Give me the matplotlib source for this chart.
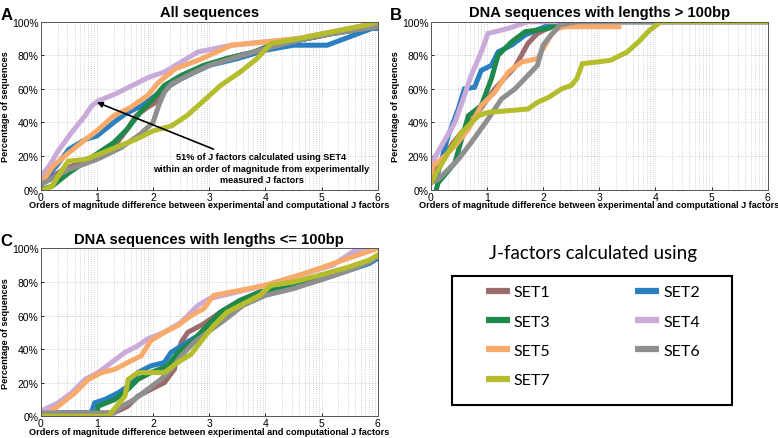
import numpy as np
import matplotlib
matplotlib.use('Agg')
import matplotlib.pyplot as plt
from matplotlib.lines import Line2D
from matplotlib.patches import Rectangle

plt.rcParams['font.family'] = ['Liberation Sans', 'DejaVu Sans']

# series names and colours
sets = ['SET1', 'SET2', 'SET3', 'SET4', 'SET5', 'SET6', 'SET7']
colors = ['#9c6b6b', '#2a7fc0', '#1d8a4c', '#c9aad9', '#f8aa6a', '#8f8f8f', '#b5bd2c']

# panel A: all sequences  (x = orders of magnitude, y = % of sequences)
A_X = {
    'SET1': [0, 0.4, 1.0, 1.36, 1.54, 1.7, 1.9, 2.05, 2.2, 2.5, 2.9, 3.3, 3.8, 4.1, 4.6, 5.2, 5.8, 6.0],
    'SET2': [0, 0.3, 0.5, 0.8, 1.0, 1.3, 1.5, 1.8, 2.0, 2.2, 2.5, 3.0, 3.5, 4.0, 4.5, 5.1, 5.9, 6.0],
    'SET3': [0, 0.2, 0.5, 1.03, 1.3, 1.54, 1.77, 2.0, 2.2, 2.5, 2.9, 3.3, 3.8, 4.1, 4.6, 5.2, 5.8, 6.0],
    'SET4': [0, 0.05, 0.15, 0.31, 0.55, 0.79, 0.91, 1.03, 1.33, 1.63, 1.93, 2.2, 2.5, 2.8, 3.4, 4.0, 4.6, 5.2, 5.8, 6.0],
    'SET5': [0, 0.1, 0.22, 0.5, 0.8, 1.0, 1.3, 1.6, 1.9, 2.1, 2.4, 2.8, 3.0, 3.4, 4.0, 4.6, 5.2, 5.8, 6.0],
    'SET6': [0, 0.5, 1.0, 1.43, 1.77, 2.0, 2.1, 2.2, 2.33, 2.62, 3.0, 3.5, 4.0, 4.6, 5.2, 5.8, 6.0],
    'SET7': [0.05, 0.2, 0.31, 0.49, 0.79, 1.03, 1.4, 1.7, 2.0, 2.33, 2.6, 2.97, 3.2, 3.55, 3.85, 4.1, 4.6, 5.2, 5.8, 6.0],
}
A_Y = {
    'SET1': [3, 12, 20, 28, 36, 44, 49, 52, 60, 67, 73, 78, 82, 86, 89, 93, 96, 97],
    'SET2': [3, 15, 24, 30, 32, 40, 45, 50, 55, 60, 66, 74, 78, 83, 86, 86, 96, 96],
    'SET3': [0, 2, 10, 22, 28, 36, 46, 54, 62, 68, 74, 78, 82, 86, 89, 93, 96, 97],
    'SET4': [5, 10, 14, 23, 34, 44, 50, 53, 57, 62, 67, 70, 76, 82, 86, 88, 90, 94, 98, 100],
    'SET5': [4, 8, 14, 22, 30, 35, 44, 49, 56, 64, 72, 77, 80, 86, 88, 90, 94, 98, 100],
    'SET6': [3, 12, 18, 25, 33, 40, 50, 58, 63, 68, 74, 79, 84, 89, 93, 96, 97],
    'SET7': [0, 2, 8, 17, 18, 21, 26, 30, 35, 38, 44, 55, 62, 70, 78, 87, 90, 94, 98, 100],
}

# panel B: lengths > 100bp
B_X = {
    'SET1': [0, 0.1, 0.4, 0.8, 1.14, 1.5, 1.73, 1.9, 2.2, 2.5, 6.0],
    'SET2': [0, 0.13, 0.31, 0.49, 0.6, 0.78, 0.9, 1.08, 1.2, 1.44, 1.68, 2.1, 2.2, 6.0],
    'SET3': [0.1, 0.13, 0.43, 0.67, 0.9, 1.08, 1.2, 1.44, 1.68, 2.1, 2.33, 6.0],
    'SET4': [0, 0.02, 0.19, 0.43, 0.6, 0.72, 0.9, 1.02, 1.38, 1.73, 6.0],
    'SET5': [0, 0.04, 0.25, 0.43, 0.67, 0.9, 1.14, 1.38, 1.62, 1.9, 2.14, 2.26, 2.4, 3.35],
    'SET6': [0, 0.13, 0.49, 0.72, 1.02, 1.26, 1.5, 1.73, 1.9, 2.0, 2.14, 2.3, 2.6, 4.1],
    'SET7': [0, 0.31, 0.55, 0.85, 1.02, 1.73, 1.9, 2.1, 2.33, 2.5, 2.6, 2.7, 3.2, 3.5, 3.7, 3.9, 4.1, 6.0],
}
B_Y = {
    'SET1': [5, 12, 28, 44, 60, 73, 87, 93, 98, 100, 100],
    'SET2': [5, 10, 32, 48, 60, 61, 71, 74, 82, 86, 92, 98, 100, 100],
    'SET3': [0, 4, 16, 44, 50, 66, 80, 88, 94, 96, 100, 100],
    'SET4': [10, 16, 26, 40, 56, 68, 82, 93, 96, 100, 100],
    'SET5': [8, 14, 20, 26, 36, 50, 58, 70, 76, 78, 92, 96, 97, 97],
    'SET6': [4, 6, 18, 28, 42, 54, 60, 68, 74, 86, 92, 98, 100, 100],
    'SET7': [4, 22, 34, 44, 46, 48, 52, 55, 60, 62, 66, 75, 77, 82, 88, 95, 100, 100],
}

# panel C: lengths <= 100bp
C_X = {
    'SET1': [0, 0.3, 1.3, 1.55, 1.73, 1.96, 2.2, 2.38, 2.5, 2.62, 2.9, 3.2, 3.55, 3.9, 4.5, 4.96, 5.5, 5.85, 6.0],
    'SET2': [0, 0.3, 0.9, 0.96, 1.14, 1.38, 1.56, 1.73, 1.96, 2.2, 2.32, 2.6, 2.9, 3.2, 3.55, 3.9, 4.5, 4.96, 5.5, 5.85, 6.0],
    'SET3': [0, 1.0, 1.02, 1.32, 1.55, 1.73, 1.96, 2.26, 2.44, 2.68, 2.91, 3.2, 3.55, 3.9, 4.5, 4.96, 5.5, 5.85, 6.0],
    'SET4': [0, 0.31, 0.55, 0.79, 1.02, 1.26, 1.5, 1.73, 1.9, 2.2, 2.5, 2.8, 3.0, 3.5, 4.0, 4.6, 5.2, 5.56, 5.9, 6.0],
    'SET5': [0, 0.13, 0.31, 0.61, 0.85, 1.08, 1.32, 1.55, 1.79, 1.96, 2.2, 2.44, 2.68, 2.9, 3.08, 3.55, 4.0, 4.6, 4.96, 5.56, 6.0],
    'SET6': [0.05, 0.1, 1.3, 1.44, 1.67, 1.9, 2.14, 2.32, 2.5, 2.73, 2.97, 3.3, 3.6, 4.0, 4.5, 4.96, 5.5, 5.85, 6.0],
    'SET7': [0, 1.2, 1.5, 1.56, 1.73, 2.2, 2.44, 2.68, 2.84, 3.08, 3.32, 3.55, 3.9, 4.1, 4.5, 4.96, 5.5, 5.85, 6.0],
}
C_Y = {
    'SET1': [0, 2, 2, 6, 12, 16, 20, 28, 44, 50, 55, 62, 69, 74, 77, 82, 88, 92, 95],
    'SET2': [0, 2, 2, 8, 10, 14, 18, 26, 30, 32, 38, 44, 50, 60, 66, 72, 77, 81, 87, 91, 94],
    'SET3': [0, 0, 6, 10, 16, 22, 26, 30, 38, 44, 52, 62, 69, 74, 77, 82, 88, 92, 95],
    'SET4': [3, 8, 14, 22, 26, 32, 38, 42, 46, 50, 56, 66, 70, 74, 78, 84, 90, 98, 100, 100],
    'SET5': [0, 2, 6, 14, 22, 26, 28, 32, 36, 45, 50, 54, 60, 64, 72, 75, 78, 84, 88, 95, 100],
    'SET6': [2, 2, 2, 6, 10, 16, 22, 28, 36, 44, 50, 58, 66, 72, 76, 81, 87, 92, 95],
    'SET7': [0, 0, 12, 22, 26, 26, 32, 37, 44, 54, 62, 66, 72, 78, 80, 84, 89, 93, 96],
}

panels = [
    ('A', 'All sequences', A_X, A_Y, [0.0523, 0.5656, 0.4332, 0.3827]),
    ('B', 'DNA sequences with lengths > 100bp', B_X, B_Y, [0.5536, 0.5656, 0.4332, 0.3827]),
    ('C', 'DNA sequences with lengths <= 100bp', C_X, C_Y, [0.0523, 0.0494, 0.4332, 0.3827]),
]

# log-style minor grid inside each order of magnitude
minor_x = [n + np.log10(k) for n in range(6) for k in range(2, 10)]

fig = plt.figure(figsize=(7.78, 4.39), dpi=100)

for letter, title, xs, ys, pos in panels:
    ax = fig.add_axes(pos)
    for s, c in zip(sets, colors):
        ax.plot(xs[s], ys[s], color=c, lw=3.6, solid_joinstyle='miter')
    ax.set_xlim(0, 6)
    ax.set_ylim(0, 100)
    ax.set_xticks(range(7))
    ax.set_xticks(minor_x, minor=True)
    ax.set_yticks(range(0, 101, 20))
    ax.set_yticklabels(['%d%%' % v for v in range(0, 101, 20)])
    ax.grid(which='both', axis='x', linestyle=':', color='#c4c4c4', lw=0.6)
    ax.grid(which='major', axis='y', linestyle=':', color='#c4c4c4', lw=0.6)
    ax.set_axisbelow(True)
    ax.tick_params(which='major', direction='in', length=2.5, labelsize=7.5, pad=1.5, width=0.6)
    ax.tick_params(which='minor', length=0)
    for sp in ax.spines.values():
        sp.set_color('#555555')
        sp.set_linewidth(0.7)
    ax.set_xlabel('Orders of magnitude difference between experimental and computational J factors',
                  fontsize=6.6, fontweight='bold')
    ax.xaxis.set_label_coords(0.5, -0.091)
    ax.xaxis.label.set_va('center')
    ax.set_ylabel('Percentage of sequences', fontsize=6.6, fontweight='bold')
    ax.yaxis.set_label_coords(-0.103, 0.5)
    ax.yaxis.label.set_va('center')
    ax.set_title(title, fontsize=10.6, fontweight='bold', pad=4)
    ax.text(-0.12, 1.045, letter, transform=ax.transAxes, fontsize=12,
            fontweight='bold', ha='left', va='center')
    if letter == 'A':
        ax.annotate('51% of J factors calculated using SET4\n'
                    'within an order of magnitude from experimentally\n'
                    'measured J factors',
                    xy=(1.0, 52), xytext=(3.93, 12.7), ha='center', va='center',
                    fontsize=6.6, fontweight='bold', linespacing=1.35,
                    arrowprops=dict(arrowstyle='-|>', color='black', lw=1.2,
                                    mutation_scale=8, shrinkA=1, shrinkB=0))

# legend block: title above a plain black box, entries filled row by row
fig.text(0.7616, 1 - 253 / 439, 'J-factors calculated using', fontsize=13.5,
         family=['Lato', 'DejaVu Sans'], ha='center', va='center')
fig.patches.append(Rectangle((0.5806, 0.0759), 0.3603, 0.2932, transform=fig.transFigure,
                             fill=False, edgecolor='black', lw=1.5))
order = [0, 2, 4, 6, 1, 3, 5]
handles = [Line2D([], [], color=colors[i], lw=4.5, solid_capstyle='butt') for i in order]
labels = [sets[i] for i in order]
fig.legend(handles, labels, loc='upper left', bbox_to_anchor=(486 / 778, 1 - 286 / 439),
           ncol=2, frameon=False, borderpad=0, borderaxespad=0, handlelength=1.5,
           handletextpad=0.25, labelspacing=0.95, columnspacing=5.3,
           prop={'family': ['Lato', 'DejaVu Sans'], 'size': 11.5})

fig.savefig('out.png', dpi=100)
